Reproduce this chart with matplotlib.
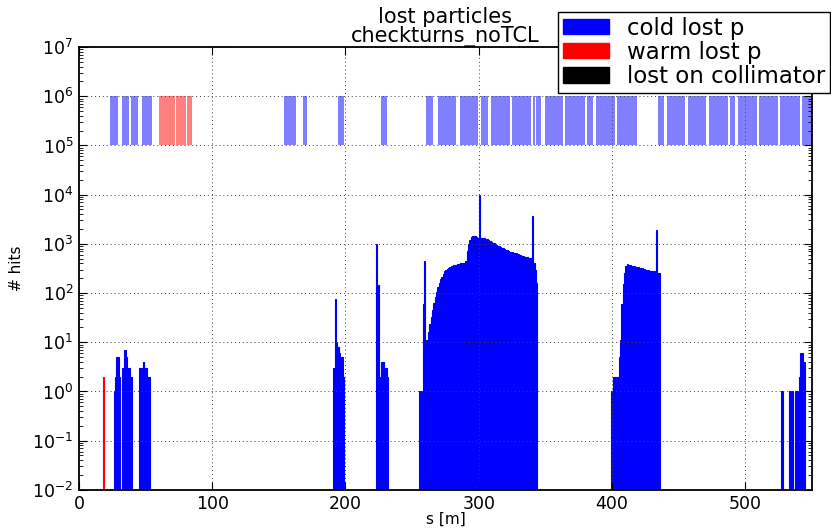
import numpy as np
import matplotlib
matplotlib.use('Agg')
import matplotlib.pyplot as plt
from matplotlib.patches import Patch
from matplotlib.ticker import LogLocator, NullFormatter

# lost particle histogram, 1 m bins (start s [m], hits per bin)
warm_s0 = 18
warm_hits = [2]

cold_a_s0 = 26
cold_a_hits = [1, 2, 5, 5, 2, 0, 3, 3, 7, 5, 3, 3, 2, 2]
cold_b_s0 = 45
cold_b_hits = [3, 3, 3, 4, 3, 3, 2, 2]
cold_c_s0 = 191
cold_c_hits = [3, 75, 10, 8, 6, 4, 5, 2]
cold_d_s0 = 223
cold_d_hits = [1000, 145, 2, 2, 4, 4, 3, 3, 2]
cold_e_s0 = 255
cold_e_hits = [1, 1, 1, 60, 440, 11, 11, 16, 24, 33,
               45, 62, 82, 105, 135, 160, 190, 215, 245, 280,
               300, 315, 330, 340, 350, 360, 365, 370, 380, 385,
               395, 400, 405, 410, 410, 450, 700, 1000, 1200, 1380,
               1420, 1440, 1420, 1350, 1300, 9800, 1300, 1300, 1320, 1300,
               1280, 1250, 1200, 1150, 1100, 1060, 1020, 980, 950, 920,
               890, 860, 830, 810, 790, 760, 740, 715, 695, 680,
               670, 660, 655, 645, 630, 600, 590, 575, 560, 550,
               540, 530, 520, 515, 505, 3700, 400, 295, 160]
cold_f_s0 = 399
cold_f_hits = [1, 1, 2, 2, 2, 2, 5, 11, 60, 150, 260, 350, 390, 380, 370, 360,
               355, 350, 345, 340, 335, 330, 325, 320, 315, 310, 300, 295, 290,
               285, 282, 278, 275, 270, 1900, 260, 250]
cold_g_s0 = 527
cold_g_hits = [1, 0, 0, 0, 0, 0, 1, 1, 1, 0, 1, 1, 1, 2, 6, 6, 4, 4]

# aperture layout (cold / warm elements) [m]
cold_ap_start = [23.3, 32.2, 38.8, 47.0, 153.5, 168.3, 194.5, 226.3,
                 260.3, 262.2, 269.5, 285.8, 301.5, 309.0, 324.8, 340.8, 343.3,
                 349.5, 365.0, 381.5, 388.3, 403.8, 434.5, 441.3, 456.8,
                 472.8, 488.8, 494.5, 510.3, 526.3, 542.8]
cold_ap_end = [29.3, 37.5, 44.5, 54.5, 162.8, 171.5, 199.0, 231.3,
               261.6, 265.8, 283.3, 299.5, 307.0, 323.3, 339.0, 342.5, 347.0,
               363.3, 379.5, 385.8, 402.0, 418.8, 439.0, 455.0, 470.8,
               487.0, 492.5, 508.8, 524.5, 540.8, 550.0]
warm_ap_start = [59.8, 64.7, 68.5, 72.8, 76.7, 81.0]
warm_ap_end = [64.3, 68.1, 72.4, 76.3, 80.6, 84.5]

fig = plt.figure(figsize=(8.31, 5.29), dpi=100)
ax = fig.add_axes([0.095, 0.074, 0.882, 0.837])
ax.set_yscale('log')

def draw_hist(s0, hits, color):
    s = s0 + np.arange(len(hits))
    ax.bar(s, hits, width=1, bottom=1e-3, align='edge', color=color,
           edgecolor=color, linewidth=0.8)

draw_hist(warm_s0, warm_hits, 'red')
for s0, h in [(cold_a_s0, cold_a_hits), (cold_b_s0, cold_b_hits),
              (cold_c_s0, cold_c_hits), (cold_d_s0, cold_d_hits),
              (cold_e_s0, cold_e_hits), (cold_f_s0, cold_f_hits),
              (cold_g_s0, cold_g_hits)]:
    draw_hist(s0, h, 'blue')

# aperture band between 1e5 and 1e6
cs = np.array(cold_ap_start)
ce = np.array(cold_ap_end)
ax.bar(cs, 9e5, width=ce - cs, bottom=1e5, align='edge', color='blue',
       alpha=0.5, linewidth=0)
ws = np.array(warm_ap_start)
we = np.array(warm_ap_end)
ax.bar(ws, 9e5, width=we - ws, bottom=1e5, align='edge', color='red',
       alpha=0.5, linewidth=0)

ax.set_xlim(0, 550)
ax.set_ylim(1e-2, 1e7)
ax.yaxis.set_major_locator(LogLocator(base=10, numticks=15))
ax.yaxis.set_minor_locator(LogLocator(base=10, subs=np.arange(2, 10), numticks=15))
ax.yaxis.set_minor_formatter(NullFormatter())
ax.set_xticks([0, 100, 200, 300, 400, 500])

ax.tick_params(which='both', direction='in', top=True, right=True)
ax.tick_params(which='major', length=6, labelsize=12.5, pad=4)
ax.tick_params(which='minor', length=3)
for sp in ax.spines.values():
    sp.set_linewidth(1.3)

ax.grid(True, which='major', linestyle=(0, (1, 3)), color='0.25', linewidth=0.7)

ax.set_xlabel('s [m]', fontsize=11, labelpad=-1)
ax.set_ylabel('# hits', fontsize=11, labelpad=6)
ax.set_title('lost particles\ncheckturns_noTCL', fontsize=15, linespacing=0.95, pad=3)

handles = [Patch(facecolor='blue', edgecolor='blue'),
           Patch(facecolor='red', edgecolor='red'),
           Patch(facecolor='black', edgecolor='black')]
leg = ax.legend(handles, ['cold lost p', 'warm lost p', 'lost on collimator'],
                loc='upper right', bbox_to_anchor=(1.0245, 1.079),
                bbox_transform=ax.transAxes, borderaxespad=0, fontsize=16.5,
                fancybox=False, framealpha=1, edgecolor='black',
                labelspacing=0.05, borderpad=0.2, handlelength=2.0,
                handleheight=0.65, handletextpad=0.8)
leg.get_frame().set_linewidth(1.0)

fig.savefig('out.png', dpi=100)
